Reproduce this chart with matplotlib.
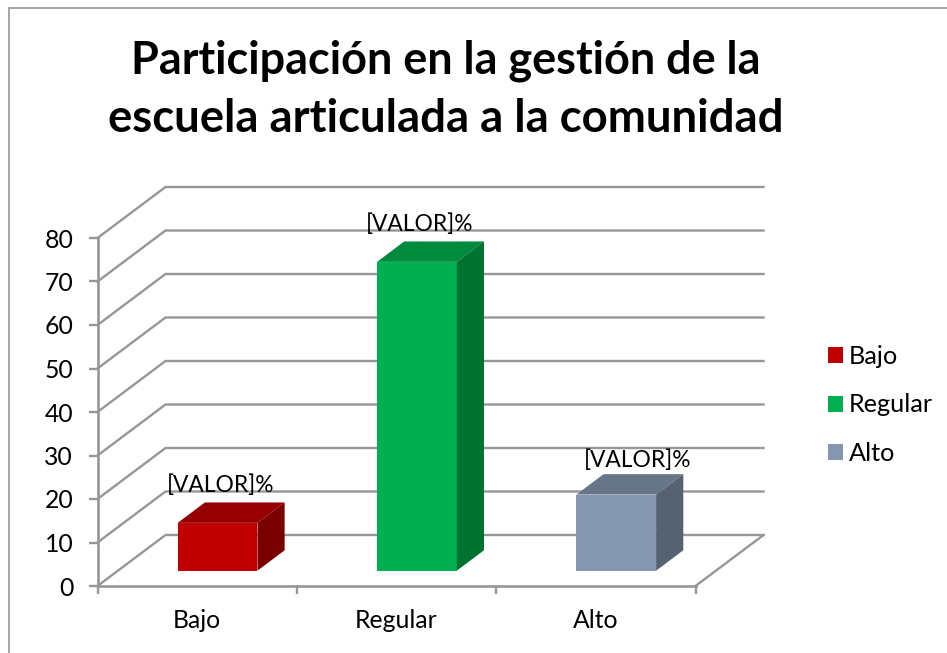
import matplotlib
matplotlib.use("Agg")
import matplotlib.pyplot as plt
from matplotlib.patches import Polygon, Rectangle

categories = ["Bajo", "Regular", "Alto"]
values = [11, 71, 17.5]
value_labels = ["[VALOR]%", "[VALOR]%", "[VALOR]%"]
y_ticks = [0, 10, 20, 30, 40, 50, 60, 70, 80]

front_colors = ["#C00000", "#00B050", "#8496B0"]
top_colors = ["#960000", "#008A3E", "#677589"]
side_colors = ["#7B0000", "#00722F", "#566272"]

# the data labels were nudged by hand in the original (pixels)
label_nudge_x = [3, 3, 21]
label_nudge_y = [38, 38, 34]

W, H = 947, 653
GRID = "#969696"
plt.rcParams["font.family"] = ["Lato", "DejaVu Sans"]

# oblique depth, in data units (1 category wide, 10 units per gridline)
depth_x = 68 / 199.33
depth_y = 51 / 4.35
bar_width = 0.4
bar_start = 0.3
bar_end = 0.7


def skew(x, y, d):
    return (x + depth_x * d, y + depth_y * d)


fig = plt.figure(figsize=(W / 100, H / 100), dpi=100)

# chart frame, only top and left are inside the picture
fig.add_artist(Rectangle((9 / W, -0.02), 1.0, 1 - 8.5 / H + 0.02, transform=fig.transFigure,
                         fill=False, edgecolor="#A6A6A6", linewidth=1.4))

ax = fig.add_axes([97.5 / W, 1 - 586 / H, 598 / W, 348 / H])
ax.set_xlim(0, 3)
ax.set_ylim(0, 80)
ax.patch.set_alpha(0)
for spine in ax.spines.values():
    spine.set_visible(False)

# walls: gridlines on the back wall and the slanted side wall
for t in y_ticks:
    p0 = (0, t)
    p1 = skew(0, t, 1)
    p2 = skew(3, t, 1)
    ax.plot([p0[0], p1[0], p2[0]], [p0[1], p1[1], p2[1]], color=GRID, lw=1.7,
            clip_on=False, zorder=1, solid_joinstyle="miter")

# floor and axes
fr = skew(3, 0, 1)
ax.plot([3, fr[0]], [0, fr[1]], color=GRID, lw=1.7, clip_on=False, zorder=1)
ax.plot([0, 3], [0, 0], color=GRID, lw=1.9, clip_on=False, zorder=1)
ax.plot([0, 0], [0, 80], color=GRID, lw=1.9, clip_on=False, zorder=1)

ax.set_yticks(y_ticks)
ax.set_xticks([0, 1, 2, 3])
ax.set_xticklabels([])
ax.tick_params(axis="y", length=6.5, width=1.7, color=GRID, labelsize=17.8, pad=11)
ax.tick_params(axis="x", length=6, width=1.7, color=GRID)
for i, name in enumerate(categories):
    ax.annotate(name, (i + 0.5, 0), xytext=(0, -35), textcoords="offset pixels",
                ha="center", va="center", fontsize=17.8, color="black",
                annotation_clip=False)

# bars
for i, val in enumerate(values):
    x0 = i + 0.5 - bar_width / 2
    x1 = i + 0.5 + bar_width / 2
    a = skew(x0, 0, bar_start)
    b = skew(x1, 0, bar_start)
    top_a = skew(x0, val, bar_start)
    top_b = skew(x1, val, bar_start)
    back_a = skew(x0, val, bar_end)
    back_b = skew(x1, val, bar_end)
    back_c = skew(x1, 0, bar_end)
    ax.add_patch(Polygon([a, b, top_b, top_a], facecolor=front_colors[i], edgecolor="none",
                         clip_on=False, zorder=3))
    ax.add_patch(Polygon([top_a, top_b, back_b, back_a], facecolor=top_colors[i], edgecolor="none",
                         clip_on=False, zorder=3))
    ax.add_patch(Polygon([b, back_c, back_b, top_b], facecolor=side_colors[i], edgecolor="none",
                         clip_on=False, zorder=3))
    ax.annotate(value_labels[i], skew(i + 0.5, val, bar_start),
                xytext=(label_nudge_x[i], label_nudge_y[i]), textcoords="offset pixels",
                ha="center", va="center", fontsize=16.4, color="black", zorder=5,
                annotation_clip=False)

# legend
handles = [Rectangle((0, 0), 1, 1, facecolor=c, edgecolor="none") for c in front_colors]
fig.legend(handles, categories, loc="center left", bbox_to_anchor=(828 / W, 1 - 405 / H),
           frameon=False, fontsize=18.2, handlelength=0.59, handleheight=0.59,
           handletextpad=0.25, labelspacing=1.0, borderpad=0, borderaxespad=0)

fig.text(446 / W, 1 - 61 / H, "Participación en la gestión de la", ha="center", va="center",
         fontsize=32.4, fontweight="bold", color="black")
fig.text(446 / W, 1 - 119 / H, "escuela articulada a la comunidad", ha="center", va="center",
         fontsize=32.8, fontweight="bold", color="black")

fig.savefig("out.png", dpi=100)
